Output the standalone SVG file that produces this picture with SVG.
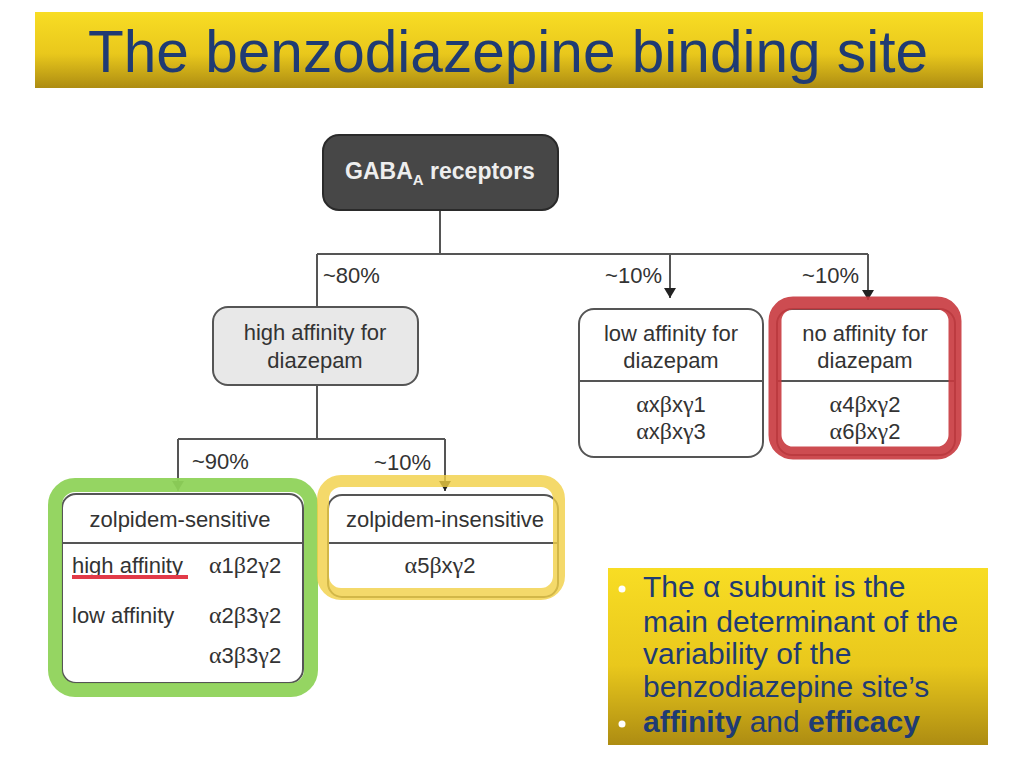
<svg xmlns="http://www.w3.org/2000/svg" width="1024" height="768" viewBox="0 0 1024 768">
<defs>
<linearGradient id="gold" x1="0" y1="0" x2="0" y2="1">
<stop offset="0" stop-color="#f8dd24"/>
<stop offset="0.55" stop-color="#e9c81c"/>
<stop offset="1" stop-color="#ad8c12"/>
</linearGradient>
<marker id="arr" viewBox="0 0 10 12" refX="10" refY="6" markerWidth="10" markerHeight="12" markerUnits="userSpaceOnUse" orient="auto">
<path d="M0,0 L10,6 L0,12 Z" fill="#222"/>
</marker>
<style>
.t{font-family:"Liberation Sans",Arial,sans-serif;font-size:22px;fill:#333}
.c{text-anchor:middle}
.e{text-anchor:end}
.g{font-family:"Liberation Serif","Times New Roman",serif;font-size:24px}
.box{stroke:#555;stroke-width:2}
.ln{stroke:#555;stroke-width:2;fill:none}
.bl{font-family:"Liberation Sans",Arial,sans-serif;font-size:30px;fill:#1f3b73}
</style>
</defs>
<rect width="1024" height="768" fill="#fff"/>
<g id="title">
<rect x="35" y="12" width="948" height="76" fill="url(#gold)"/>
<text x="88" y="72" font-family="Liberation Sans,Arial,sans-serif" font-size="60" fill="#1f3b73" textLength="840" lengthAdjust="spacingAndGlyphs">The benzodiazepine binding site</text>
</g>
<g id="connectors">
<path class="ln" d="M440,211 V254 M317,254 H868 M317,254 V308"/>
<path class="ln" d="M670,254 V298" marker-end="url(#arr)"/>
<path class="ln" d="M868,254 V300" marker-end="url(#arr)"/>
<path class="ln" d="M317,385 V439 M178,439 H445"/>
<path class="ln" d="M178,439 V491" marker-end="url(#arr)"/>
<path class="ln" d="M445,439 V491" marker-end="url(#arr)"/>
<text class="t" x="323" y="283">~80%</text>
<text class="t e" x="662" y="283">~10%</text>
<text class="t e" x="859" y="283">~10%</text>
<text class="t" x="192" y="469">~90%</text>
<text class="t e" x="431" y="470">~10%</text>
</g>
<g id="gaba">
<rect x="323" y="135" width="235" height="75" rx="16" fill="#474747" stroke="#2a2a2a" stroke-width="2"/>
<text x="440" y="179" text-anchor="middle" font-family="Liberation Sans,Arial,sans-serif" font-size="23" font-weight="bold" fill="#eee">GABA<tspan font-size="15" dy="6">A</tspan><tspan dy="-6"> receptors</tspan></text>
</g>
<g id="high">
<rect class="box" x="213" y="307" width="205" height="78" rx="15" fill="#e8e8e8"/>
<text class="t c" x="315" y="340">high affinity for</text>
<text class="t c" x="315" y="368">diazepam</text>
</g>
<g id="low">
<rect class="box" x="579" y="309" width="184" height="148" rx="15" fill="#fff"/>
<line class="ln" x1="579" y1="381" x2="763" y2="381"/>
<text class="t c" x="671" y="341">low affinity for</text>
<text class="t c" x="671" y="368">diazepam</text>
<text class="t c" x="671" y="412"><tspan class="g">α</tspan>x<tspan class="g">β</tspan>x<tspan class="g">γ</tspan>1</text>
<text class="t c" x="671" y="439"><tspan class="g">α</tspan>x<tspan class="g">β</tspan>x<tspan class="g">γ</tspan>3</text>
</g>
<g id="none">
<rect class="box" x="777" y="309" width="178" height="146" rx="15" fill="#fff"/>
<line class="ln" x1="777" y1="381" x2="955" y2="381"/>
<text class="t c" x="865" y="341">no affinity for</text>
<text class="t c" x="865" y="368">diazepam</text>
<text class="t c" x="865" y="412"><tspan class="g">α</tspan>4<tspan class="g">β</tspan>x<tspan class="g">γ</tspan>2</text>
<text class="t c" x="865" y="439"><tspan class="g">α</tspan>6<tspan class="g">β</tspan>x<tspan class="g">γ</tspan>2</text>
<rect x="775" y="303" width="180" height="150" rx="18" fill="none" stroke="#c8393e" stroke-width="13" opacity="0.9"/>
</g>
<g id="sensitive">
<rect class="box" x="62" y="494" width="241" height="189" rx="14" fill="#fff"/>
<line class="ln" x1="62" y1="543" x2="303" y2="543"/>
<text class="t c" x="180" y="527">zolpidem-sensitive</text>
<text class="t" x="72" y="573">high affinity</text>
<rect x="72" y="575" width="116" height="4" fill="#e23a48"/>
<text class="t" x="209" y="573"><tspan class="g">α</tspan>1<tspan class="g">β</tspan>2<tspan class="g">γ</tspan>2</text>
<text class="t" x="72" y="623">low affinity</text>
<text class="t" x="209" y="623"><tspan class="g">α</tspan>2<tspan class="g">β</tspan>3<tspan class="g">γ</tspan>2</text>
<text class="t" x="209" y="663"><tspan class="g">α</tspan>3<tspan class="g">β</tspan>3<tspan class="g">γ</tspan>2</text>
<rect x="55" y="485" width="256" height="205" rx="20" fill="none" stroke="#8fd35a" stroke-width="14" opacity="0.95"/>
</g>
<g id="insensitive">
<rect class="box" x="328" y="495" width="230" height="102" rx="14" fill="#fff"/>
<line class="ln" x1="328" y1="543" x2="558" y2="543"/>
<text class="t c" x="445" y="527">zolpidem-insensitive</text>
<text class="t c" x="440" y="573"><tspan class="g">α</tspan>5<tspan class="g">β</tspan>x<tspan class="g">γ</tspan>2</text>
<rect x="323" y="481" width="236" height="113" rx="18" fill="none" stroke="#f1cf45" stroke-width="12" opacity="0.8"/>
</g>
<g id="note">
<rect x="608" y="568" width="380" height="177" fill="url(#gold)"/>
<circle cx="622" cy="589" r="3.5" fill="#fff"/>
<circle cx="622" cy="724" r="3.5" fill="#fff"/>
<text class="bl" x="643" y="597">The α subunit is the</text>
<text class="bl" x="643" y="632">main determinant of the</text>
<text class="bl" x="643" y="664">variability of the</text>
<text class="bl" x="643" y="697">benzodiazepine site’s</text>
<text class="bl" x="643" y="732"><tspan font-weight="bold">affinity</tspan> and <tspan font-weight="bold">efficacy</tspan></text>
</g>
</svg>
